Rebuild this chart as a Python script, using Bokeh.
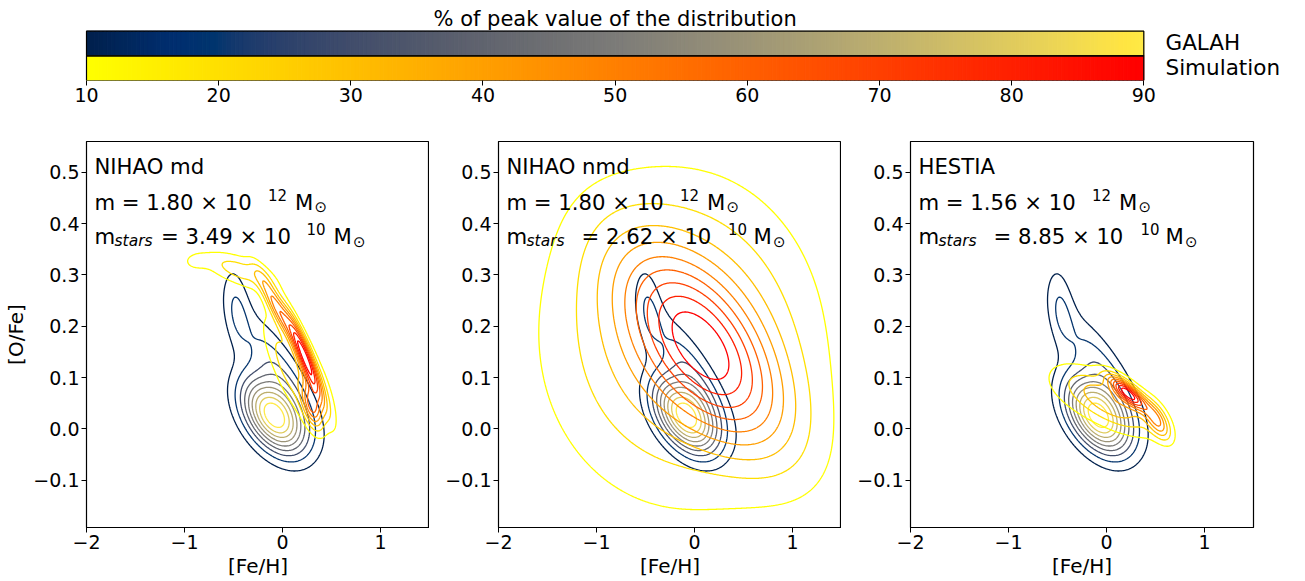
import numpy as np
from bokeh.plotting import figure
from bokeh.layouts import column, row
from bokeh.models import Label, FixedTicker, Range1d
from bokeh.palettes import Cividis256
from bokeh.embed import file_html
from bokeh.resources import INLINE

# ---------------- data ----------------
levels_pct = [10, 20, 30, 40, 50, 60, 70, 80, 90]
cbar_ticks = [10, 20, 30, 40, 50, 60, 70, 80, 90]
x_ticks = [-2, -1, 0, 1]
y_ticks = [-0.1, 0.0, 0.1, 0.2, 0.3, 0.4, 0.5]

# GALAH distribution (Gaussian-mixture estimate): centre, widths, correlation, weight
galah_cx = [-0.09, -0.06, -0.47]
galah_cy = [0.025, 0.12, 0.235]
galah_sx = [0.22, 0.27, 0.1]
galah_sy = [0.05, 0.075, 0.06]
galah_rho = [-0.45, -0.8, -0.3]
galah_w = [1.0, 0.24, 0.17]

# NIHAO md simulation
md_cx = [0.23, -0.05, 0.30, 0.05, -0.45, -0.9, 0.36]
md_cy = [0.14, 0.235, 0.045, 0.12, 0.31, 0.325, 0.08]
md_sx = [0.12, 0.13, 0.07, 0.18, 0.25, 0.1, 0.15]
md_sy = [0.055, 0.045, 0.03, 0.07, 0.025, 0.013, 0.06]
md_rho = [-0.9, -0.9, -0.5, -0.8, -0.6, 0.0, -0.7]
md_w = [1.0, 0.62, 0.6, 0.3, 0.3, 0.12, 0.2]

# NIHAO nmd simulation
nmd_cx = [0.13, -0.05, -0.22]
nmd_cy = [0.15, 0.17, 0.18]
nmd_sx = [0.57, 0.75, 1.0]
nmd_sy = [0.13, 0.17, 0.23]
nmd_rho = [-0.65, -0.1, 0.05]
nmd_w = [1.0, 0.45, 0.3]

# HESTIA simulation
hes_cx = [0.22, 0.52, 0.05, -0.12]
hes_cy = [0.07, 0.015, 0.05, 0.065]
hes_sx = [0.13, 0.09, 0.3, 0.47]
hes_sy = [0.022, 0.025, 0.04, 0.05]
hes_rho = [-0.8, -0.6, -0.7, -0.5]
hes_w = [1.0, 0.5, 0.35, 0.15]

panel_names = ["NIHAO md", "NIHAO nmd", "HESTIA"]
panel_m = ["1.80", "1.80", "1.56"]
panel_mstars = ["3.49", "2.62", "8.85"]
m_exp = "12"
mstars_exp = "10"

# ---------------- helpers ----------------
FONT = "DejaVu Sans"
X0, X1 = -2.0, 1.5
Y0, Y1 = -0.192, 0.56
FW, FH = 343, 386

xg = np.linspace(-2.2, 1.7, 400)
yg = np.linspace(-0.25, 0.62, 400)
XG, YG = np.meshgrid(xg, yg)


def mixture(cx, cy, sx, sy, rho, w):
    Z = np.zeros_like(XG)
    for a, b, c, d, r, ww in zip(cx, cy, sx, sy, rho, w):
        dx = (XG - a) / c
        dy = (YG - b) / d
        q = (dx * dx - 2 * r * dx * dy + dy * dy) / (1 - r * r)
        Z += ww * np.exp(-0.5 * q)
    return Z / Z.max()


def autumn_r(t):
    g = int(round(255 * (1 - t)))
    return "#%02x%02x%02x" % (255, g, 0)


def cividis(t):
    return Cividis256[int(round(t * 255))]


lev = [l / 100 for l in levels_pct]
tnorm = [(l - 10) / 80 for l in levels_pct]
galah_colors = [cividis(t) for t in tnorm]
sim_colors = [autumn_r(t) for t in tnorm]

BASE_FIX = 0.32  # baseline correction (fraction of font size)
TXT = "21.2px"


def fs(size):
    return float(size.replace("px", ""))


# ---------------- colour bar figure ----------------
cb_left, cb_right, cb_top, cb_bot = 86.0, 1143.3, 30.7, 80.0
ppx = (cb_right - cb_left) / 80.0
ppy = (cb_bot - cb_top) / 2.0
cb = figure(width=1305, height=125,
            x_range=Range1d(10 - cb_left / ppx, 90 + (1305 - cb_right) / ppx),
            y_range=Range1d(0, cb_bot / ppy),
            min_border_left=0, min_border_right=0, min_border_top=0, min_border_bottom=45,
            toolbar_location=None, output_backend="svg", tools="")
cb.yaxis.visible = False
cb.xgrid.visible = False
cb.ygrid.visible = False
cb.outline_line_color = None
n = 256
edges = np.linspace(10, 90, n + 1)
top_cols = [Cividis256[i] for i in range(n)]
bot_cols = [autumn_r(i / (n - 1)) for i in range(n)]
cb.quad(left=edges[:-1], right=edges[1:], bottom=1, top=2,
        fill_color=top_cols, line_color=top_cols, line_width=1)
cb.quad(left=edges[:-1], right=edges[1:], bottom=0, top=1,
        fill_color=bot_cols, line_color=bot_cols, line_width=1)
cb.quad(left=[10, 10], right=[90, 90], bottom=[0, 1], top=[1, 2],
        fill_color=None, line_color="black", line_width=1.2)
ax = cb.xaxis[0]
ax.ticker = FixedTicker(ticks=cbar_ticks)
ax.major_tick_out = 5
ax.major_tick_in = 0
ax.minor_tick_line_color = None
ax.axis_line_color = None
ax.major_tick_line_color = "black"
ax.major_label_text_font = FONT
ax.major_label_text_font_size = "19px"
ax.major_label_text_color = "black"
ax.major_label_standoff = 2


def cb_lab(xpx, basepx, text, size, align):
    y = (cb_bot - basepx + BASE_FIX * fs(size)) / ppy
    cb.add_layout(Label(x=10 + (xpx - cb_left) / ppx, y=y, text=text,
                        text_align=align, text_baseline="alphabetic", text_font=FONT,
                        text_font_size=size, text_color="black"))


cb_lab((cb_left + cb_right) / 2, 25, "% of peak value of the distribution", "21px", "center")
cb_lab(1165, 49.3, "GALAH", "21.5px", "left")
cb_lab(1165, 74, "Simulation", "21.5px", "left")

# ---------------- panels ----------------
sims = [
    (md_cx, md_cy, md_sx, md_sy, md_rho, md_w),
    (nmd_cx, nmd_cy, nmd_sx, nmd_sy, nmd_rho, nmd_w),
    (hes_cx, hes_cy, hes_sx, hes_sy, hes_rho, hes_w),
]

# text layout offsets (px from frame left), per panel
eq_dx = [74.6, 83, 83]
sup2_dx = [220, 229.5, 230]
M2_dx = [247, 255, 255]

Zg = mixture(galah_cx, galah_cy, galah_sx, galah_sy, galah_rho, galah_w)

panels = []
for i in range(3):
    left = 86 if i == 0 else 69
    right = 52 if i == 2 else 0
    p = figure(frame_width=FW, frame_height=FH, x_range=Range1d(X0, X1), y_range=Range1d(Y0, Y1),
               min_border_left=left, min_border_right=right, min_border_top=16, min_border_bottom=54,
               toolbar_location=None, output_backend="svg", tools="")
    p.xgrid.visible = False
    p.ygrid.visible = False
    p.outline_line_color = "black"
    p.outline_line_width = 1.2
    for a, ticks in ((p.xaxis[0], x_ticks), (p.yaxis[0], y_ticks)):
        a.ticker = FixedTicker(ticks=ticks)
        a.major_tick_out = 5
        a.major_tick_in = 0
        a.minor_tick_line_color = None
        a.major_label_text_font = FONT
        a.major_label_text_font_size = "19px"
        a.major_label_text_color = "black"
        a.major_label_standoff = 2
        a.axis_label_text_font = FONT
        a.axis_label_text_font_size = "20px"
        a.axis_label_text_font_style = "normal"
        a.axis_label_text_color = "black"
        a.axis_label_standoff = 2
    p.yaxis[0].major_label_overrides = {-0.1: "−0.1", 0.0: "0.0"}
    p.xaxis[0].major_label_overrides = {-2: "−2", -1: "−1"}
    p.xaxis[0].axis_label = "[Fe/H]"
    if i == 0:
        p.yaxis[0].axis_label = "[O/Fe]"

    Zs = mixture(*sims[i])
    p.contour(x=xg, y=yg, z=Zg, levels=lev, line_color=galah_colors, line_width=1.3)
    p.contour(x=xg, y=yg, z=Zs, levels=lev, line_color=sim_colors, line_width=1.3)

    pxu = FW / (X1 - X0)
    pyu = FH / (Y1 - Y0)

    def lab(dx, dy, text, size=TXT, style="normal"):
        yy = Y1 - (dy - BASE_FIX * fs(size)) / pyu
        p.add_layout(Label(x=X0 + dx / pxu, y=yy, text=text, text_font=FONT,
                           text_font_size=size, text_font_style=style, text_color="black",
                           text_align="left", text_baseline="alphabetic"))

    lab(8, 31.3, panel_names[i])
    lab(8, 67.3, "m = %s × 10" % panel_m[i])
    lab(181.4, 58, m_exp, "15px")
    lab(208.5, 67.3, "M")
    lab(228, 70.7, "⊙", "15px")
    lab(8, 101.7, "m")
    lab(28, 104.3, "stars", "15.5px", "italic")
    lab(eq_dx[i], 101.7, "= %s × 10" % panel_mstars[i])
    lab(sup2_dx[i], 92.4, mstars_exp, "15px")
    lab(M2_dx[i], 101.7, "M")
    lab(M2_dx[i] + 19.5, 105.1, "⊙", "15px")
    panels.append(p)

layout = column(cb, row(*panels, spacing=0), spacing=0)
open("out.html", "w").write(file_html(layout, INLINE))
